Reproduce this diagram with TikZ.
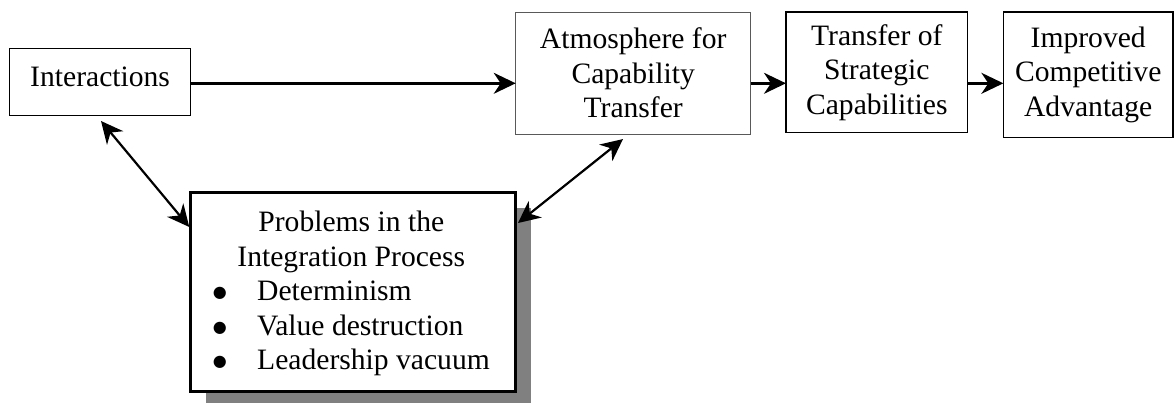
\documentclass[tikz,border=0pt]{standalone}
\usepackage{fontspec}
\setmainfont{Liberation Serif}
\newfontfamily\symfont{DejaVu Sans}
\usetikzlibrary{arrows.meta,shadows,calc}
\newcommand\listdot{\makebox[44.4pt][l]{\raisebox{3pt}{\fontsize{16pt}{16pt}\symfont ●}}}
\begin{document}
\begin{tikzpicture}[x=1pt,y=-1pt,
  every node/.style={font=\fontsize{29.6pt}{34.5pt}\selectfont, outer sep=0pt, inner sep=0pt},
  box/.style={draw=black, line width=1.5pt, align=center},
  probbox/.style={draw=black, line width=2.8pt, fill=white,
    drop shadow={shadow xshift=15pt, shadow yshift=-15pt, opacity=1, fill=black!50}},
  tip/.tip={Stealth[length=22pt,width=21pt,inset=7pt]},
  arr/.style={-tip, line width=2.4pt},
  darr/.style={tip-tip, line width=2.2pt}]
\useasboundingbox (0,0) rectangle (1175,402);

% top row of boxes
\node[box, minimum width=181.2pt, minimum height=67pt, text height=20pt, text depth=10.2pt]
  (inter) at (100.1,81.8) {Interactions};
\node[box, draw=black!65, line width=1pt, minimum width=235pt, minimum height=121.7pt]
  (atm) at (633.2,73.2) {Atmosphere for\\Capability\\Transfer};
\node[box, minimum width=181.7pt, minimum height=120.7pt]
  (trans) at (876.8,72.3) {Transfer of\\Strategic\\Capabilities};
\node[box, minimum width=169.7pt, minimum height=125.7pt]
  (impr) at (1088.2,74.8) {Improved\\Competitive\\Advantage};

% problems box with its shadow and bulleted list
\node[probbox, minimum width=325pt, minimum height=199pt] (prob) at (353.2,292.2) {};
\node[anchor=base] (probtext) at (351.3,231.7) {\begin{tabular}[t]{@{}l@{}}
  \multicolumn{1}{@{}c@{}}{Problems in the}\\
  \multicolumn{1}{@{}c@{}}{Integration Process}\\
  \listdot Determinism\\
  \listdot Value destruction\\
  \listdot Leadership vacuum
\end{tabular}};

% connectors
\coordinate (lane) at (0,83.3);
\draw[arr] (inter.east |- lane) -- (atm.west |- lane);
\draw[arr] (atm.east |- lane) -- (trans.west |- lane);
\draw[arr] (trans.east |- lane) -- (impr.west |- lane);
\draw[darr] ([shift={(91.5,5.7)}]inter.south west) -- ([shift={(-1.4,34.3)}]prob.north west);
\draw[darr] ([shift={(2.3,30.3)}]prob.north east) -- ([shift={(107.3,5)}]atm.south west);
\end{tikzpicture}
\end{document}
